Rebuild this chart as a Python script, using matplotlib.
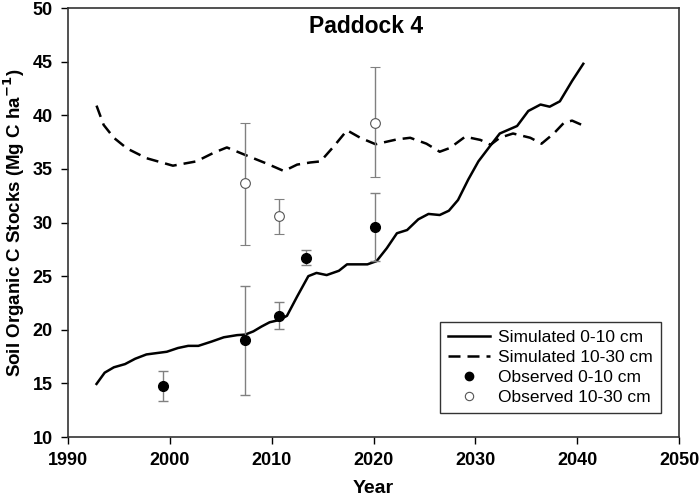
import numpy as np
import matplotlib.pyplot as plt
from matplotlib.lines import Line2D

plt.rcParams['font.family'] = ['Liberation Sans', 'DejaVu Sans']

# simulated 0-10 cm
sim_shallow_year = [1992.8, 1993.6, 1994.5, 1995.6, 1996.6, 1997.7, 1999.7, 2000.8,
                    2001.8, 2002.8, 2004.1, 2005.3, 2006.6, 2007.4, 2008.2, 2009.0,
                    2009.8, 2010.7, 2011.5, 2012.5, 2013.6, 2014.4, 2015.4, 2016.6,
                    2017.4, 2019.4, 2020.3, 2021.3, 2022.3, 2023.3, 2024.4, 2025.4,
                    2026.5, 2027.4, 2028.3, 2029.3, 2030.3, 2031.5, 2032.4, 2034.1,
                    2035.2, 2036.4, 2037.3, 2038.3, 2039.5, 2040.6]
sim_shallow_soc = [14.95, 16.0, 16.5, 16.8, 17.3, 17.7, 17.95, 18.3,
                   18.5, 18.5, 18.9, 19.3, 19.5, 19.55, 19.85, 20.3,
                   20.7, 20.9, 21.3, 23.1, 25.0, 25.3, 25.1, 25.5,
                   26.1, 26.1, 26.4, 27.6, 29.0, 29.3, 30.3, 30.8,
                   30.7, 31.1, 32.1, 34.0, 35.7, 37.2, 38.3, 39.0,
                   40.4, 41.0, 40.8, 41.3, 43.2, 44.8]

# simulated 10-30 cm
sim_deep_year = [1992.8, 1993.5, 1994.5, 1995.8, 1997.7, 2000.3, 2002.6, 2004.3,
                 2005.6, 2007.4, 2009.5, 2011.2, 2012.5, 2013.8, 2014.8, 2016.1,
                 2017.4, 2018.7, 2020.2, 2022.3, 2023.6, 2025.2, 2026.5, 2027.5,
                 2029.0, 2030.5, 2031.5, 2032.4, 2033.7, 2035.4, 2036.5, 2037.7,
                 2038.7, 2039.5, 2040.7]
sim_deep_soc = [40.9, 39.1, 37.9, 36.9, 36.0, 35.3, 35.7, 36.5,
                37.0, 36.3, 35.5, 34.8, 35.4, 35.6, 35.7, 37.1,
                38.6, 37.9, 37.3, 37.75, 37.9, 37.35, 36.6, 36.95,
                38.0, 37.7, 37.25, 37.9, 38.3, 37.9, 37.35, 38.3,
                39.3, 39.5, 39.0]

# observed 0-10 cm
obs_shallow_year = [1999.3, 2007.4, 2010.7, 2013.4, 2020.1]
obs_shallow_soc = [14.8, 19.0, 21.3, 26.7, 29.6]
obs_shallow_lo = [13.4, 13.9, 20.1, 26.0, 26.45]
obs_shallow_hi = [16.2, 24.1, 22.55, 27.45, 32.75]

# observed 10-30 cm
obs_deep_year = [2007.4, 2010.7, 2020.1]
obs_deep_soc = [33.65, 30.6, 39.3]
obs_deep_lo = [27.9, 28.9, 34.2]
obs_deep_hi = [39.3, 32.2, 44.5]

fig = plt.figure(figsize=(6.99, 5.01), dpi=100)
ax = fig.add_axes([0.0973, 0.1277, 0.8741, 0.8563])

ax.plot(sim_shallow_year, sim_shallow_soc, color='black', lw=1.8,
        label='Simulated 0-10 cm')
ax.plot(sim_deep_year, sim_deep_soc, color='black', lw=1.8,
        dashes=(4.8, 2.8), label='Simulated 10-30 cm')

err_s = [np.array(obs_shallow_soc) - np.array(obs_shallow_lo),
         np.array(obs_shallow_hi) - np.array(obs_shallow_soc)]
err_d = [np.array(obs_deep_soc) - np.array(obs_deep_lo),
         np.array(obs_deep_hi) - np.array(obs_deep_soc)]

ax.errorbar(obs_shallow_year, obs_shallow_soc, yerr=err_s, fmt='o', ms=7,
            mfc='black', mec='black', ecolor='#808080', elinewidth=1,
            capsize=3.5, capthick=1, zorder=3)
ax.errorbar(obs_deep_year, obs_deep_soc, yerr=err_d, fmt='o', ms=7,
            mfc='white', mec='#555555', mew=0.8, ecolor='#808080',
            elinewidth=1, capsize=3.5, capthick=1, zorder=3)

ax.set_xlim(1990, 2050)
ax.set_ylim(10, 50)
ax.set_xticks(np.arange(1990, 2051, 10))
ax.set_yticks(np.arange(10, 51, 5))
ax.tick_params(direction='out', length=5, width=1, labelsize=13, pad=6)
for lbl in ax.get_xticklabels() + ax.get_yticklabels():
    lbl.set_fontweight('bold')
for sp in ax.spines.values():
    sp.set_color('#333333')
    sp.set_linewidth(1.2)

ax.set_xlabel('Year', fontsize=14, fontweight='bold', labelpad=8)
ax.set_ylabel('Soil Organic C Stocks (Mg C ha$^{\\mathbf{-1}}$)', fontsize=13.5,
              fontweight='bold', labelpad=4)
ax.text(0.488, 0.956, 'Paddock 4', transform=ax.transAxes, ha='center',
        va='center', fontsize=16.5, fontweight='bold')

handles = [Line2D([], [], color='black', lw=1.8),
           Line2D([], [], color='black', lw=1.8, dashes=(4.8, 2.8)),
           Line2D([], [], ls='none', marker='o', ms=6, mfc='black', mec='black'),
           Line2D([], [], ls='none', marker='o', ms=6, mfc='white', mec='#555555',
                  mew=0.8)]
labels = ['Simulated 0-10 cm', 'Simulated 10-30 cm',
          'Observed 0-10 cm', 'Observed 10-30 cm']
leg = ax.legend(handles, labels, loc='lower right', bbox_to_anchor=(0.9705, 0.056),
                borderaxespad=0, fontsize=12.5, frameon=True, fancybox=False,
                edgecolor='black', handlelength=2.4, labelspacing=0.28,
                borderpad=0.45, handletextpad=0.5)
leg.get_frame().set_linewidth(1.0)

fig.savefig('out.png', dpi=100)
